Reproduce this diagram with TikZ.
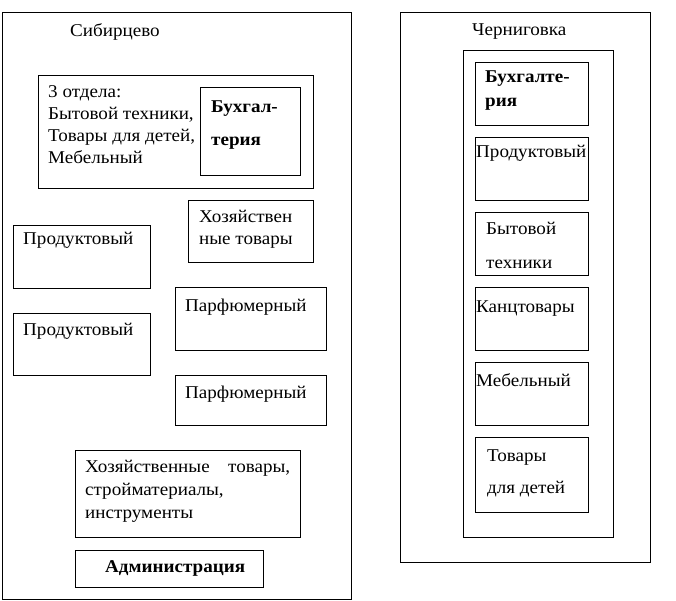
\documentclass[tikz,border=0pt]{standalone}
\usepackage{fontspec}
\setmainfont{Liberation Serif}[FakeStretch=1.06]
\usetikzlibrary{positioning}

\begin{document}
\begin{tikzpicture}[
    x=1pt, y=-1pt,
    box/.style={rectangle, draw, line width=0.9pt, anchor=north west, inner sep=0pt},
    lbl/.style={anchor=base west, inner sep=0pt, align=left, font=\fontsize{18}{22}\selectfont},
    wide/.style={lbl, font=\fontsize{18}{33}\selectfont},
    head/.style={lbl, font=\bfseries\fontsize{18}{24}\selectfont}
]
\useasboundingbox (0,0) rectangle (676,601);

% Сибирцево
\node[box, minimum width=349pt, minimum height=587pt] (sib) at (2,12) {};
\node[lbl] (sib_title) at (70,37) {Сибирцево};

% multi-line labels are placed by the baseline of their last line
\node[box, minimum width=275pt, minimum height=113pt] (otdela) at (38,75) {};
\node[lbl] (otdela_txt) at (48,164) {3 отдела:\\Бытовой техники,\\Товары для детей,\\Мебельный};
\node[box, minimum width=100pt, minimum height=88pt] (sib_buh) at (200,87) {};
\node[head, font=\bfseries\fontsize{18}{33}\selectfont] (sib_buh_txt) at (211,146) {Бухгал-\\терия};

\node[box, minimum width=125pt, minimum height=62pt] (sib_hoz) at (188,200) {};
\node[lbl] (sib_hoz_txt) at (199,245) {Хозяйствен\\ные товары};

% two columns of departments
\node[box, minimum width=137pt, minimum height=63pt] (sib_prod1) at (13,225) {};
\node[lbl] (sib_prod1_txt) at (23,245) {Продуктовый};
\node[box, minimum width=137pt, minimum height=62pt] (sib_prod2) at (13,313) {};
\node[lbl] (sib_prod2_txt) at (23,335) {Продуктовый};

\node[box, minimum width=151pt, minimum height=63pt] (sib_parf1) at (175,287) {};
\node[lbl] (sib_parf1_txt) at (185,311) {Парфюмерный};
\node[box, minimum width=151pt, minimum height=50pt] (sib_parf2) at (175,375) {};
\node[lbl] (sib_parf2_txt) at (185,398) {Парфюмерный};

\node[box, minimum width=225pt, minimum height=87pt] (sib_str) at (75,450) {};
\node[lbl, font=\fontsize{18}{23}\selectfont] (sib_str_txt) at (85,518) {\makebox[205pt][s]{Хозяйственные\hfill товары,}\\стройматериалы,\\инструменты};

\node[box, minimum width=188pt, minimum height=37pt] (sib_adm) at (75,550) {};
\node[head] (sib_adm_txt) at (105,572) {Администрация};

% Черниговка
\node[box, minimum width=250pt, minimum height=550pt] (cher) at (400,12) {};
\node[lbl] (cher_title) at (472,36) {Черниговка};
\node[box, minimum width=150pt, minimum height=487pt] (cher_in) at (463,50) {};

\node[box, minimum width=113pt, minimum height=63pt] (cher_buh) at (475,62) {};
\node[head] (cher_buh_txt) at (485,107) {Бухгалте-\\рия};
\node[box, minimum width=113pt, minimum height=63pt] (cher_prod) at (475,137) {};
\node[lbl] (cher_prod_txt) at (476,158) {Продуктовый};
\node[box, minimum width=113pt, minimum height=63pt] (cher_byt) at (475,212) {};
\node[wide] (cher_byt_txt) at (486,268) {Бытовой\\техники};
\node[box, minimum width=113pt, minimum height=63pt] (cher_kanc) at (475,287) {};
\node[lbl] (cher_kanc_txt) at (476,312) {Канцтовары};
\node[box, minimum width=113pt, minimum height=63pt] (cher_meb) at (475,362) {};
\node[lbl] (cher_meb_txt) at (476,386) {Мебельный};
\node[box, minimum width=113pt, minimum height=75pt] (cher_tov) at (475,437) {};
\node[lbl, font=\fontsize{18}{32}\selectfont] (cher_tov_txt) at (487,493) {Товары\\для детей};

\end{tikzpicture}
\end{document}
